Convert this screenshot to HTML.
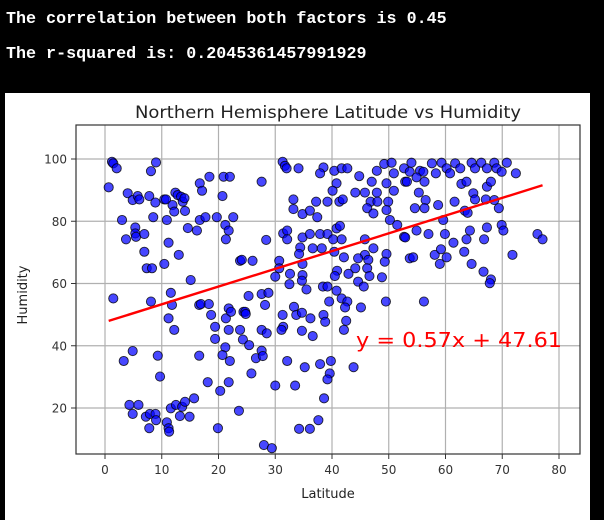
<!DOCTYPE html>
<html><head><meta charset="utf-8">
<style>
html,body{margin:0;padding:0;background:#000;width:604px;height:520px;overflow:hidden}
.hdr{position:absolute;left:6px;color:#fff;font:bold 16.7px "Liberation Mono",monospace;white-space:pre}
#panel{position:absolute;left:5px;top:93px;width:585px;height:427px;background:#fff}
svg{position:absolute;left:0;top:0}
</style></head><body>
<div class="hdr" style="top:10px">The correlation between both factors is 0.45</div>
<div class="hdr" style="top:45px">The r-squared is: 0.2045361457991929</div>
<div id="panel"></div>
<svg id="chart" width="604" height="520"></svg>
<script>
const lats=[1.23,1.46,2.06,0.65,8.99,8.1,4.0,4.88,5.76,6.05,7.8,8.87,10.45,10.75,12.4,12.8,13.4,13.7,14,11.9,12.2,14.1,16.7,17.1,18.4,20.9,22.0,20.7,3.0,8.5,10.9,5.34,5.34,5.46,3.7,6.93,11.2,13.0,6.93,7.35,8.28,10.45,15.1,16.7,17.7,19.7,22.6,21.2,21.8,21.3,14.6,16.2,23.8,
1.46,8.1,11.6,11.8,11.2,12.2,16.6,16.9,18.3,18.7,19.4,19.4,21.3,21.8,22.2,21.8,23.8,24.3,24.4,21.2,20.7,22.0,4.88,3.3,9.3,9.7,16.6,18.1,20.3,21.8,4.3,5.9,4.88,7.2,7.9,8.9,9.0,7.8,10.9,11.2,11.3,11.6,12.5,13.6,14.1,13.2,14.9,15.7,19.9,23.6,
31.3,31.7,32.0,34.1,27.6,38.5,37.9,40.4,41.7,42.7,44.8,47.9,49.2,50.5,50.9,52.7,52.9,47.0,40.8,40.1,44.1,45.8,47.9,49.6,50.9,33.2,37.2,39.2,41.3,41.9,46.8,48.0,49.9,33.2,34.8,36.1,37.4,46.2,47.3,49.6,50.2,51.5,28.4,31.4,32.1,32.1,34.8,36.1,37.9,39.2,40.8,41.4,40.2,41.7,34.4,34.2,36.6,38.2,40.4,42.1,45.8,47.3,45.8,49.6,49.3,44.6,46.4,52.7,53.7,24.1,26.0,30.7,30.7,34.8,30.0,32.6,34.8,34.7,32.5,35.5,40.9,40.5,42.9,44.1,46.2,46.6,48.8,44.6,45.6,38.4,39.2,40.8,25.3,27.6,28.8,
28.2,24.7,24.8,27.6,28.5,25.4,27.6,26.6,27.8,31.3,33.3,33.7,34.7,36.2,38.5,38.8,31.4,31.1,34.7,36.6,39.5,41.7,42.7,42.3,45.1,42.5,42.1,49.5,32.1,35.2,37.9,39.8,39.6,39.2,43.8,25.8,30.0,33.5,38.6,37.6,34.2,36.1,28.0,29.4,
54.0,53.7,55.5,56.1,57.6,58.3,59.3,60.2,60.8,61.7,62.6,64.6,65.2,66.3,67.3,68.6,69.0,69.9,70.8,72.4,53.2,54.9,56.3,55.3,56.5,54.6,56.3,58.7,61.6,62.8,63.7,64.9,65.2,67.3,68.0,67.1,68.6,69.4,63.4,63.9,59.6,52.9,54.9,57.0,59.9,61.4,64.3,63.7,66.8,67.3,69.9,70.2,76.2,77.1,54.3,58.1,59.2,60.2,59.0,63.3,64.6,66.7,68.0,67.8,71.8,56.2];
const hums=[99.1,98.6,97,90.9,98.9,96.1,89,86.8,88.1,87,88.1,86,87,87,89.2,88.4,87.9,86.3,87.4,85.2,83.1,83.3,92.2,89.8,94.3,94.3,94.3,88.1,80.4,81.3,80.4,78,76.1,75,74.2,75.9,73.1,69.2,70.2,64.9,64.9,66.3,61.1,80.4,81.3,81.3,81.3,78.8,77,74.2,77.8,77,67.3,
55.2,54.2,57,53.1,48.8,45.1,53.1,53.4,53.4,49.9,46.1,42.2,48.8,52,50.9,45.1,45.1,42,50.9,39.5,37,35.1,38.3,35.1,36.8,30.1,36.8,28.3,25.5,28.3,21,21,18.1,17.2,18.1,18.1,16.1,13.5,15.4,13.5,12.4,19.9,21,20.4,22,17.4,17.2,23.1,13.5,19.1,
99.1,97.8,97,97,92.7,97.3,95.4,96.2,97,97,94.5,96.2,98.4,98.8,95.4,97,92.7,92.7,92.2,89.8,89.2,89.2,89.2,92.2,89.8,87,86.3,86.3,86.3,87,86.3,86.3,86.3,83.9,82.3,83.4,81.3,84.2,82.5,83.6,80.4,78.8,74,76.1,77,74.2,74.8,75.9,75.9,75.9,77.7,78.5,74.2,74.2,71.6,69.5,71.3,71.3,70.2,68.4,74.2,71.3,69.2,69.5,67,68.1,67.6,75,68.1,67.6,67.3,67.3,64.9,66.3,62.2,63.1,62.7,60.9,59.8,58.1,64.1,62.4,63.1,64.9,64.9,62.4,62,60.6,59,59,59,57.7,56,56.6,57,
53.1,50.9,50.2,45.1,44,40.2,38.4,36,36.7,49.9,52.5,49.9,50.6,48.8,49.9,47.7,46.1,45.1,44.8,43.1,54.2,55.2,54.2,52.3,52.3,48,45.1,54.2,35.1,33.1,34.1,35.1,31.1,29.2,33.1,31.1,27.2,27.2,23.1,16.1,13.3,13.3,8.1,7.1,
98.8,95.9,96.2,95.9,98.6,95.4,98.8,97,95.4,98.6,97,98.8,97,98.8,97,98.8,97,95.9,98.8,95.4,92.7,94.1,92.7,89.2,86.8,84.2,84.2,85.2,86.3,92,92.7,89,87,91.1,92.7,87,86.8,84.2,83.4,82.7,80.4,74.8,77,75.9,75.9,73.1,77,74.2,74.2,78,78.8,77,75.9,74.2,68.4,69.2,71,68.4,66.3,70.2,66.3,63.8,61.3,60.1,69.2,54.2];
const xTicks=[0,10,20,30,40,50,60,70,80];
const yTicks=[20,40,60,80,100];
const slope=0.57, intercept=47.61;
const L=76,R=580,T=125,B=454;
const xs=v=>105+(v-0)*(559-105)/80;
const ys=v=>408-(v-20)*(408-159)/80;
const NS='http://www.w3.org/2000/svg';
const svg=document.getElementById('chart');
function mk(tag,attrs,parent){const e=document.createElementNS(NS,tag);for(const k in attrs)e.setAttribute(k,attrs[k]);(parent||svg).appendChild(e);return e;}
const font='"DejaVu Sans","Liberation Sans",sans-serif';
xTicks.forEach(t=>{
  const g=mk('line',{x1:xs(t),x2:xs(t),y1:T,y2:B,stroke:'#b0b0b0','stroke-width':1.2});
  
  
  mk('line',{x1:xs(t),x2:xs(t),y1:B,y2:B+5,stroke:'#333'});
  const tx=mk('text',{x:xs(t),y:B+20,'text-anchor':'middle','font-size':12,fill:'#333','font-family':font});
  tx.textContent=t;
  
  
});
yTicks.forEach(t=>{
  const g=mk('line',{x1:L,x2:R,y1:ys(t),y2:ys(t),stroke:'#b0b0b0','stroke-width':1.2});
  
  
  mk('line',{x1:L-5,x2:L,y1:ys(t),y2:ys(t),stroke:'#333'});
  const tx=mk('text',{x:L-9,y:ys(t)+4.5,'text-anchor':'end','font-size':12,fill:'#333','font-family':font});
  tx.textContent=t;
  
  
});
lats.forEach((la,i)=>{
  const c=mk('circle',{cx:xs(la),cy:ys(hums[i]),r:4.6,fill:'rgba(0,0,255,0.72)',stroke:'#000','stroke-width':0.9,'stroke-opacity':0.8});
  
  
});
const xmin=Math.min(...lats),xmax=Math.max(...lats);
const rl=mk('line',{x1:xs(xmin),y1:ys(slope*xmin+intercept),x2:xs(xmax),y2:ys(slope*xmax+intercept),stroke:'#f00','stroke-width':2.4});


const eq=mk('text',{x:356,y:347,'font-size':20,fill:'#f00','font-family':font,textLength:206,lengthAdjust:'spacingAndGlyphs'});
eq.textContent='y = 0.57x + 47.61';


const fr=mk('rect',{x:L,y:T,width:R-L,height:B-T,fill:'none',stroke:'#333','stroke-width':1.2});


const ti=mk('text',{x:(L+R)/2,y:118,'text-anchor':'middle','font-size':16.5,fill:'#222','font-family':font,textLength:386,lengthAdjust:'spacingAndGlyphs'});
ti.textContent='Northern Hemisphere Latitude vs Humidity';


const xl=mk('text',{x:(L+R)/2,y:498,'text-anchor':'middle','font-size':13,fill:'#222','font-family':font});
xl.textContent='Latitude';


const yl=mk('text',{x:0,y:0,'text-anchor':'middle','font-size':13,fill:'#222','font-family':font,transform:'translate(27,295) rotate(-90)'});
yl.textContent='Humidity';


</script>
</body></html>
